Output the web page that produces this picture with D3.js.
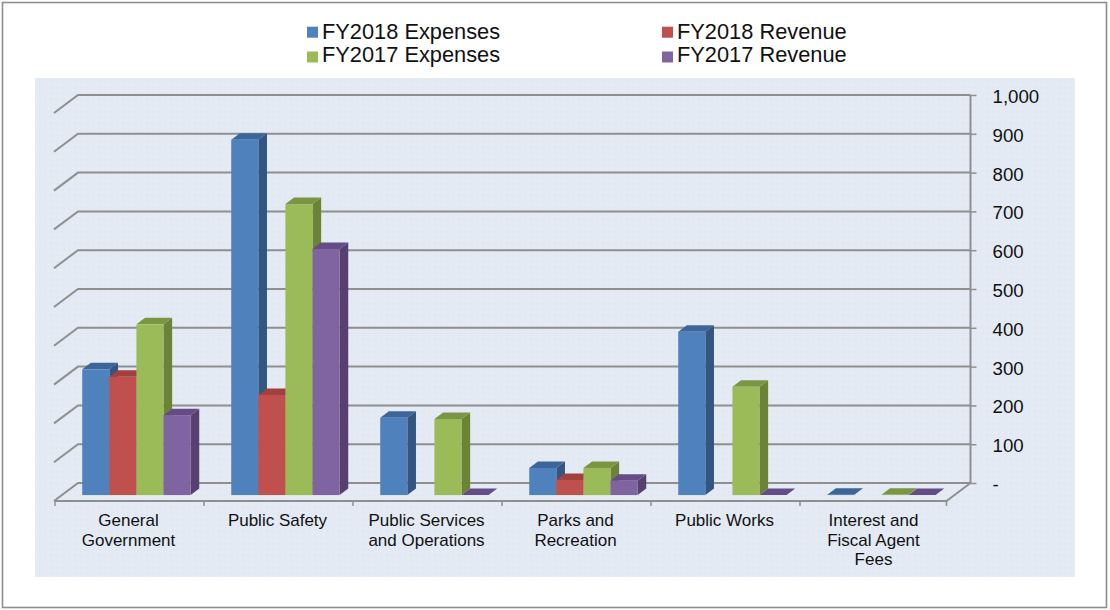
<!DOCTYPE html>
<html>
<head>
<meta charset="utf-8">
<script src="https://cdn.jsdelivr.net/npm/d3@7"></script>
<style>
  html, body { margin: 0; padding: 0; background: #ffffff; }
  svg { display: block; font-family: "Liberation Sans", Arial, sans-serif; }
</style>
</head>
<body>
<svg id="chart" width="1110" height="610"></svg>
<script>
// ---- data ----
const categories = ["General Government", "Public Safety", "Public Services and Operations", "Parks and Recreation", "Public Works", "Interest and Fiscal Agent Fees"];
const categoryLines = [["General", "Government"], ["Public Safety"], ["Public Services", "and Operations"], ["Parks and", "Recreation"], ["Public Works"], ["Interest and", "Fiscal Agent", "Fees"]];
const seriesNames = ["FY2018 Expenses", "FY2018 Revenue", "FY2017 Expenses", "FY2017 Revenue"];
const fy2018Expenses = [324, 916, 199, 70, 421, 1];
const fy2018Revenue  = [305, 258, null, 39, null, null];
const fy2017Expenses = [440, 750, 196, 70, 279, 1];
const fy2017Revenue  = [206, 634, 0, 37, 0, 0];
const tickValues = [0, 100, 200, 300, 400, 500, 600, 700, 800, 900, 1000];
const tickLabels = ["-", "100", "200", "300", "400", "500", "600", "700", "800", "900", "1,000"];

const seriesValues = [fy2018Expenses, fy2018Revenue, fy2017Expenses, fy2017Revenue];
const frontColors = ["#4F81BD", "#C0504D", "#9BBB59", "#8064A2"];
const sideColors  = ["#33557F", "#8A3835", "#6A8337", "#56406F"];
const topColors   = ["#3C6699", "#A2403D", "#7A9645", "#654C88"];

// ---- layout ----
const svg = d3.select("#chart");
const depthX = -24, depthY = 18;            // full floor depth vector (back -> front)
const barFront = 0.67, barBack = 0.31;      // bar depth fraction

const x = d3.scaleBand().domain(categories).range([78, 972]).paddingInner(0).paddingOuter(0);
const xs = d3.scaleBand().domain(seriesNames).range([0, x.bandwidth()]).paddingInner(0).paddingOuter(0.75);
const y = d3.scaleLinear().domain([0, 1000]).range([483, 95]);

// outer frame
svg.append("rect").attr("x", 2.5).attr("y", 2.5).attr("width", 1104).attr("height", 605)
  .attr("fill", "#fff").attr("stroke", "#8e8e8e").attr("stroke-width", 1.6);

// plot panel with faint dotted texture
const defs = svg.append("defs");
const pat = defs.append("pattern").attr("id", "dots").attr("width", 6).attr("height", 6).attr("patternUnits", "userSpaceOnUse");
pat.append("rect").attr("width", 6).attr("height", 6).attr("fill", "#E3EAF4");
pat.append("rect").attr("x", 0).attr("y", 0).attr("width", 1).attr("height", 1).attr("fill", "#EEF2F8");
pat.append("rect").attr("x", 3).attr("y", 3).attr("width", 1).attr("height", 1).attr("fill", "#DCE4F0");
svg.append("rect").attr("x", 35).attr("y", 78).attr("width", 1040).attr("height", 499).attr("fill", "url(#dots)");

const x0 = x.range()[0], x1 = 970.5;
const gridColor = "#8f8f8f";

// gridlines: back wall + left diagonal
const grid = svg.append("g");
tickValues.forEach(v => {
  grid.append("path")
    .attr("d", `M${x0 + depthX},${y(v) + depthY}L${x0},${y(v)}L${x1},${y(v)}`)
    .attr("fill", "none").attr("stroke", gridColor).attr("stroke-width", 2);
});
// right axis line
grid.append("line").attr("x1", x1).attr("x2", x1).attr("y1", y(1000)).attr("y2", y(0))
  .attr("stroke", gridColor).attr("stroke-width", 2);
// floor front + right diagonal
grid.append("path")
  .attr("d", `M${x0 + depthX},${y(0) + depthY}L${x1 + depthX},${y(0) + depthY}L${x1},${y(0)}`)
  .attr("fill", "none").attr("stroke", gridColor).attr("stroke-width", 2);
// category ticks
categories.forEach((c, i) => {
  grid.append("line").attr("x1", x(c) + depthX + 1).attr("x2", x(c) + depthX + 1)
    .attr("y1", y(0) + depthY).attr("y2", y(0) + depthY + 5).attr("stroke", gridColor).attr("stroke-width", 1.5);
});
grid.append("line").attr("x1", x1 + depthX).attr("x2", x1 + depthX)
  .attr("y1", y(0) + depthY).attr("y2", y(0) + depthY + 5).attr("stroke", gridColor).attr("stroke-width", 1.5);

// right value axis via d3.axisRight
const axisG = svg.append("g").attr("transform", `translate(${x1},0)`)
  .call(d3.axisRight(y).tickValues(tickValues).tickFormat((d, i) => tickLabels[i]).tickSize(6).tickPadding(16));
axisG.select(".domain").remove();
axisG.selectAll(".tick line").attr("stroke", gridColor).attr("stroke-width", 1.5);
axisG.selectAll(".tick text").attr("font-size", 18.7).attr("fill", "#111")
  .attr("font-family", "'Liberation Sans', Arial, sans-serif").attr("dy", "0.4em");

// bars
const bars = svg.append("g");
const fdx = depthX * barFront, fdy = depthY * barFront;
const bdx = depthX * barBack, bdy = depthY * barBack;
categories.forEach((c, ci) => {
  seriesNames.forEach((s, si) => {
    const v = seriesValues[si][ci];
    if (v === null || v === undefined) return;
    const left = x(c) + xs(s) + fdx;
    const right = left + xs.bandwidth();
    const yb = y(0) + fdy;
    const yt = y(v) + fdy;
    const ox = bdx - fdx, oy = bdy - fdy; // front -> back offset
    if (yb - yt >= 1) {
      bars.append("path")
        .attr("d", `M${right},${yt}L${right + ox},${yt + oy}L${right + ox},${yb + oy}L${right},${yb}Z`)
        .attr("fill", sideColors[si]);
    }
    bars.append("path")
      .attr("d", `M${left},${yt}L${left + ox},${yt + oy}L${right + ox},${yt + oy}L${right},${yt}Z`)
      .attr("fill", topColors[si]);
    if (yb - yt > 0) {
      bars.append("rect").attr("x", left).attr("y", yt).attr("width", xs.bandwidth()).attr("height", yb - yt)
        .attr("fill", frontColors[si]);
    }
  });
});

// category labels
const labels = svg.append("g").attr("font-size", 17).attr("fill", "#111").attr("text-anchor", "middle");
categories.forEach((c, i) => {
  const cx = x(c) + x.bandwidth() / 2 + depthX;
  const t = labels.append("text").attr("x", cx).attr("y", 526);
  categoryLines[i].forEach((ln, li) => {
    t.append("tspan").attr("x", cx).attr("y", 526 + li * 19.5).text(ln);
  });
});

// legend: [swatch x, swatch y, text baseline]
const legendPos = [[307, 26.7, 39], [662, 26.7, 39], [307, 51.5, 62], [662, 51.5, 62]];
const legend = svg.append("g");
seriesNames.forEach((s, i) => {
  const [lx, ly, tb] = legendPos[i];
  legend.append("rect").attr("x", lx).attr("y", ly).attr("width", 11).attr("height", 11).attr("fill", frontColors[i]);
  legend.append("text").attr("x", lx + 15).attr("y", tb).attr("font-size", 21.8).attr("fill", "#111").text(s);
});
</script>
</body>
</html>
